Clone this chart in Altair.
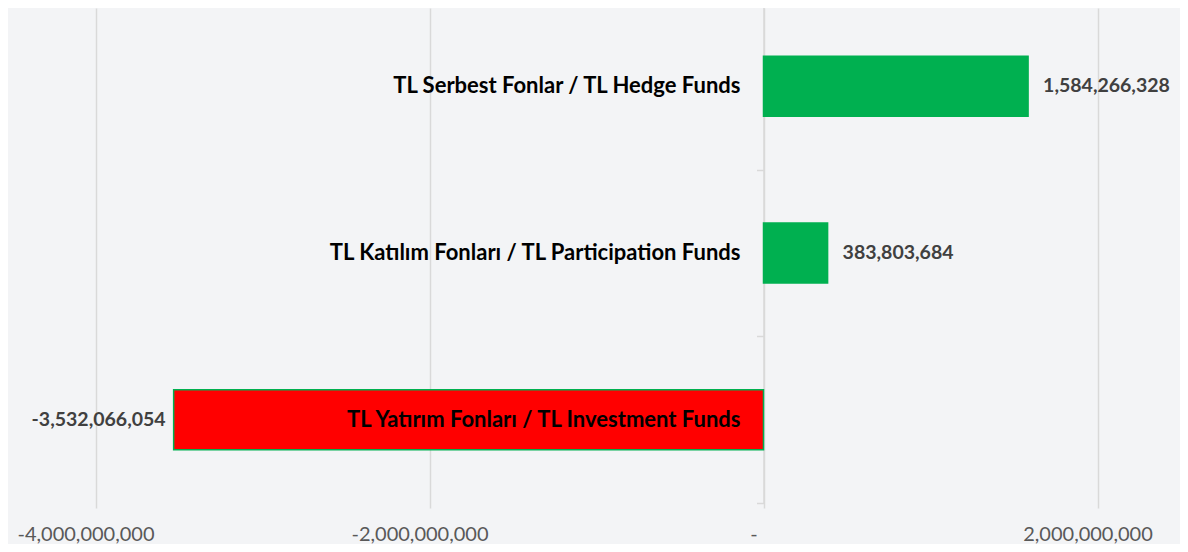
import altair as alt
import pandas as pd

categories = [
    "TL Serbest Fonlar / TL Hedge Funds",
    "TL Katılım Fonları / TL Participation Funds",
    "TL Yatırım Fonları / TL Investment Funds",
]
values = [1584266328, 383803684, -3532066054]
bar_colors = ["#00B050", "#00B050", "#FF0000"]
tick_values = [-4000000000, -2000000000, 0, 2000000000]

df = pd.DataFrame({"category": categories, "value": values, "color": bar_colors})

FONT = "Lato"

x_scale = alt.Scale(domain=[-4.5e9, 2.494e9], nice=False, zero=False)
y_scale = alt.Scale(range=[-5, 495], paddingInner=0, paddingOuter=0)

base = alt.Chart(df).transform_calculate(
    label="replace(format(datum.value, ','), '\u2212', '-')"
)

bars = base.mark_bar(
    stroke="#00B050", strokeWidth=1.5, height=alt.RelativeBandSize(0.36)
).encode(
    x=alt.X(
        "value:Q",
        scale=x_scale,
        axis=alt.Axis(
            values=tick_values,
            labelExpr="datum.value == 0 ? '-' : replace(format(datum.value, ','), '\u2212', '-')",
            title=None,
            grid=True,
            gridColor="#d9d9d9",
            gridWidth=1.5,
            ticks=False,
            domain=False,
            labelFont=FONT,
            labelFontSize=20,
            labelColor="#595959",
            labelPadding=21,
            labelOffset=-10,
        ),
    ),
    y=alt.Y(
        "category:N",
        sort=None,
        scale=y_scale,
        axis=alt.Axis(
            title=None,
            labels=False,
            grid=False,
            domain=True,
            domainColor="#d9d9d9",
            domainWidth=1.5,
            ticks=True,
            tickColor="#d9d9d9",
            tickWidth=1.5,
            tickSize=7,
            tickBand="extent",
            offset=-751.5,
        ),
    ),
    color=alt.Color("color:N", scale=None),
)

cat_labels = base.mark_text(
    align="right", baseline="middle", dx=-23, font=FONT, fontSize=22,
    fontWeight="bold", color="#000000",
).encode(
    x=alt.datum(0),
    y=alt.Y("category:N", sort=None),
    text="category:N",
)

pos_labels = base.transform_filter("datum.value >= 0").mark_text(
    align="left", baseline="middle", dx=15, font=FONT, fontSize=19.5,
    fontWeight="bold", color="#404040",
).encode(
    x="value:Q",
    y=alt.Y("category:N", sort=None),
    text="label:N",
)

neg_labels = base.transform_filter("datum.value < 0").mark_text(
    align="right", baseline="middle", dx=-8, font=FONT, fontSize=19.5,
    fontWeight="bold", color="#404040",
).encode(
    x="value:Q",
    y=alt.Y("category:N", sort=None),
    text="label:N",
)

chart = (
    alt.layer(bars, cat_labels, pos_labels, neg_labels)
    .properties(
        width=1168,
        height=495,
        autosize=alt.AutoSizeParams(type="none"),
        padding={"left": 4, "top": 0, "right": 0, "bottom": 41},
        background="#f3f4f6",
    )
    .configure_view(stroke=None)
)

chart.save("out.html", embed_options={"renderer": "svg", "actions": False})
